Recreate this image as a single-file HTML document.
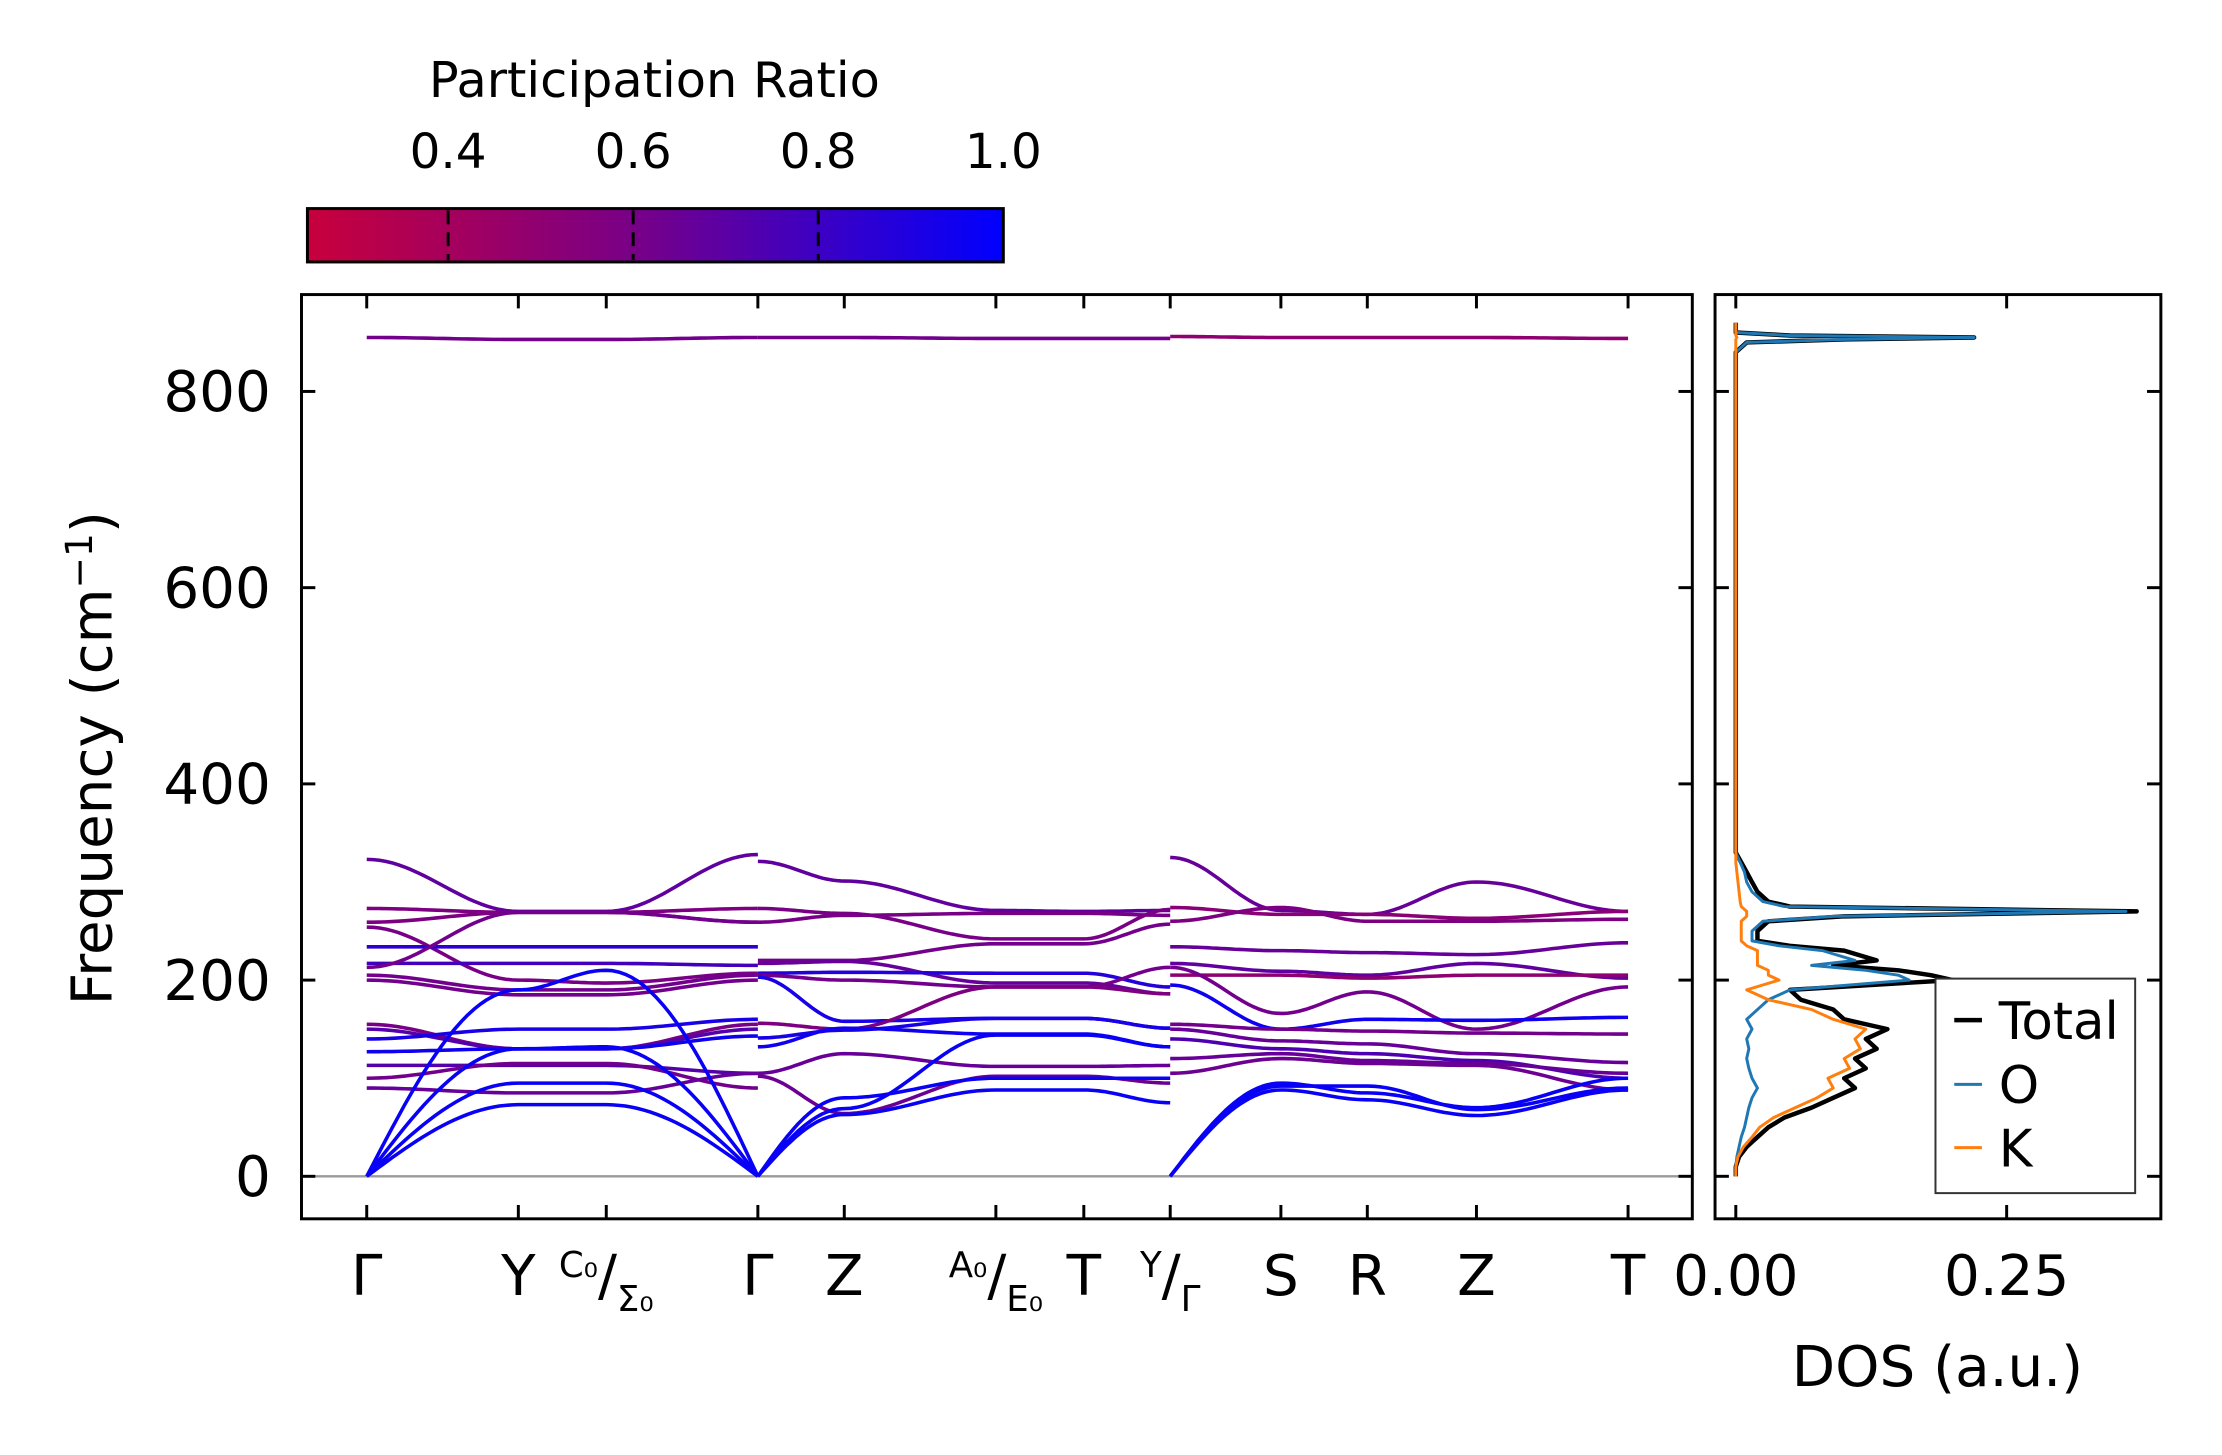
<!DOCTYPE html>
<html><head><meta charset="utf-8"><style>
html,body{margin:0;padding:0;background:#fff}
svg{display:block}
text{font-family:"DejaVu Sans","Liberation Sans",sans-serif;fill:#000}
</style></head><body>
<svg width="2222" height="1455" viewBox="0 0 2222 1455" xmlns="http://www.w3.org/2000/svg">
<defs>
<linearGradient id="cmap" x1="0" x2="1" y1="0" y2="0">
<stop offset="0" stop-color="rgb(200,0,60)"/>
<stop offset="0.47" stop-color="rgb(120,0,135)"/>
<stop offset="1" stop-color="rgb(0,0,255)"/>
</linearGradient>
<clipPath id="mainClip"><rect x="305" y="298" width="1407" height="935"/></clipPath>
<clipPath id="dosClip"><rect x="1735" y="298" width="451" height="935"/></clipPath>
</defs>
<g id="fig" transform="scale(0.9885)">
<text x="662" y="98" font-size="50" text-anchor="middle">Participation Ratio</text>
<rect x="311" y="211" width="704" height="54" fill="url(#cmap)" stroke="#000" stroke-width="3"/>
<g id="cbticks"></g>
<g id="main"></g>
<g id="dos"></g>
</g>
</svg>
<script>
const NS="http://www.w3.org/2000/svg";
function mk(tag,attrs,parent){const e=document.createElementNS(NS,tag);for(const k in attrs)e.setAttribute(k,attrs[k]);parent.appendChild(e);return e;}

// ---- data ----
const cbTicks=[0.4,0.6,0.8,1.0];
const freqTicks=[0,200,400,600,800];
const kLabels=["Γ","Y","C0/Σ0","Γ","Z","A0/E0","T","Y/Γ","S","R","Z","T"];
const kPos=[0,1,1.58,2.58,3.15,4.15,4.73,5.3,6.03,6.6,7.32,8.32];
const piece1Knots=[0,1,1.58,2.58];
const piece2Knots=[2.58,3.15,4.15,4.73,5.3];
const piece3Knots=[5.3,6.03,6.6,7.32,8.32];
const piece1Bands=[[855,853,853,855],[323,270,270,328],[273,269,269,273],[259,269,269,259],[254,200,197,207],[234,234,234,234],[217,217,217,215],[213,269,269,259],[205,190,190,205],[200,185,185,200],[155,130,130,155],[150,130,130,150],[140,150,150,160],[127,130,130,143],[113,113,113,105],[100,115,115,90],[90,85,85,105],[0,73,73,0],[0,95,95,0],[0,130,132,0],[0,190,210,0]];
const piece1PR=[0.62,0.68,0.58,0.58,0.6,0.85,0.78,0.62,0.62,0.62,0.6,0.72,0.92,0.95,0.72,0.62,0.66,0.97,0.97,0.97,0.97];
const piece2Bands=[[855,855,854,854,854],[321,301,271,270,271],[273,268,242,242,272],[259,266,268,268,266],[220,220,237,237,257],[217,219,197,197,186],[207,208,207,207,193],[205,200,193,193,213],[203,158,161,161,151],[156,150,193,193,186],[141,149,161,161,151],[132,151,145,145,132],[105,125,112,112,113],[102,64,102,102,95],[0,69,144,144,132],[0,63,88,88,75],[0,80,100,100,100]];
const piece2PR=[0.62,0.68,0.6,0.6,0.62,0.66,0.88,0.62,0.92,0.58,0.92,0.95,0.66,0.64,0.97,0.97,0.97];
const piece3Bands=[[856,855,855,855,854],[325,271,267,300,270],[274,267,267,263,270],[260,274,260,260,262],[234,230,228,226,238],[217,209,205,217,202],[205,205,202,205,205],[213,166,188,150,193],[195,150,160,159,162],[155,150,148,146,145],[150,138,135,125,116],[140,130,125,118,100],[120,125,118,115,105],[105,120,115,113,88],[0,92,92,68,90],[0,88,78,62,88],[0,95,85,70,100]];
const piece3PR=[0.5,0.66,0.52,0.58,0.66,0.68,0.5,0.62,0.95,0.62,0.66,0.74,0.66,0.64,0.97,0.97,0.97];

const dosFreq=[0,10,20,30,40,50,60,70,80,90,100,110,120,130,140,150,160,170,180,190,200,205,210,215,220,230,235,240,250,260,265,270,275,280,290,300,310,320,330,840,850,853,855,857,860,870];
const dosTotal=[0,0,0.003,0.01,0.02,0.03,0.045,0.07,0.09,0.11,0.10,0.12,0.11,0.13,0.12,0.14,0.10,0.09,0.06,0.05,0.20,0.18,0.15,0.09,0.13,0.10,0.05,0.02,0.02,0.03,0.10,0.37,0.05,0.03,0.02,0.015,0.01,0.005,0,0,0.01,0.1,0.22,0.05,0,0];
const dosO=[0,0,0.001,0.003,0.005,0.008,0.01,0.012,0.015,0.02,0.015,0.012,0.01,0.012,0.01,0.015,0.01,0.02,0.03,0.05,0.16,0.15,0.12,0.07,0.11,0.08,0.04,0.015,0.015,0.025,0.09,0.36,0.045,0.025,0.015,0.01,0.008,0.004,0,0,0.01,0.1,0.22,0.05,0,0];
const dosK=[0,0,0.002,0.007,0.015,0.022,0.035,0.055,0.075,0.09,0.085,0.105,0.10,0.115,0.11,0.12,0.09,0.07,0.03,0.01,0.04,0.03,0.03,0.02,0.02,0.02,0.01,0.005,0.005,0.005,0.01,0.01,0.005,0.004,0.003,0.002,0.001,0,0,0,0,0,0.001,0,0,0];
const dosTicks=[0.00,0.25];

// ---- scales ----
const M={L:305,R:1712,T:298,B:1233};
const D={L:1735,R:2186};
const yF=f=>1190-f*0.9925;
const xK=k=>371+k*(1647-371)/8.32;
const xD=d=>1756+d*1096;
const xCB=v=>311+(v-0.248)*(704/0.752);
function prColor(p){const t=Math.max(0,Math.min(1,(p-0.248)/0.752));let a,b,u;
 if(t<0.47){a=[200,0,60];b=[120,0,135];u=t/0.47;}else{a=[120,0,135];b=[0,0,255];u=(t-0.47)/0.53;}
 return `rgb(${a.map((v,i)=>Math.round(v+(b[i]-v)*u)).join(',')})`;}

const FS=57;
const cbg=document.getElementById('cbticks');
cbTicks.forEach(v=>{const x=xCB(v);
 if(v<1){const l=mk('line',{x1:x,x2:x,y1:213,y2:263,stroke:'#000','stroke-width':3,'stroke-dasharray':'14,8'},cbg);
 
 }
 const t=mk('text',{x:x,y:170,'font-size':49,'text-anchor':'middle'},cbg);t.textContent=v.toFixed(1);
 
 
});

const g=document.getElementById('main');
const zl=mk('line',{x1:M.L,x2:M.R,y1:yF(0),y2:yF(0),stroke:'#999','stroke-width':2.5},g);


const bands=mk('g',{'clip-path':'url(#mainClip)',fill:'none','stroke-width':3.6,'stroke-linejoin':'round'},g);


function interp(a,b,u){
 if(a===0&&b!==0)return b*Math.sin(u*Math.PI/2);
 if(b===0&&a!==0)return a*Math.sin((1-u)*Math.PI/2);
 return a+(b-a)*(1-Math.cos(u*Math.PI))/2;}
function drawPiece(knots,bandsArr,prs){
 bandsArr.forEach((bd,i)=>{let pts=[];
  for(let s=0;s<knots.length-1;s++){for(let j=0;j<=24;j++){if(s>0&&j===0)continue;const u=j/24;
   const k=knots[s]+(knots[s+1]-knots[s])*u;pts.push(xK(k).toFixed(1)+','+yF(interp(bd[s],bd[s+1],u)).toFixed(1));}}
  const p=mk('polyline',{points:pts.join(' '),stroke:prColor(prs[i])},bands);
  
  
 });}
drawPiece(piece1Knots,piece1Bands,piece1PR);
drawPiece(piece2Knots,piece2Bands,piece2PR);
drawPiece(piece3Knots,piece3Bands,piece3PR);
const fr=mk('rect',{x:M.L,y:M.T,width:M.R-M.L,height:M.B-M.T,fill:'none',stroke:'#000','stroke-width':3},g);


freqTicks.forEach(f=>{const y=yF(f);
 mk('line',{x1:M.L,x2:M.L+14,y1:y,y2:y,stroke:'#000','stroke-width':3},g);
 mk('line',{x1:M.R-14,x2:M.R,y1:y,y2:y,stroke:'#000','stroke-width':3},g);
 mk('line',{x1:D.L,x2:D.L+14,y1:y,y2:y,stroke:'#000','stroke-width':3},g);
 mk('line',{x1:D.R-14,x2:D.R,y1:y,y2:y,stroke:'#000','stroke-width':3},g);
 const t=mk('text',{x:274,y:y+20,'font-size':FS,'text-anchor':'end'},g);t.textContent=f;
 
 
});
kPos.forEach((k,i)=>{const x=xK(k);
 mk('line',{x1:x,x2:x,y1:M.B-14,y2:M.B,stroke:'#000','stroke-width':3},g);
 mk('line',{x1:x,x2:x,y1:M.T,y2:M.T+14,stroke:'#000','stroke-width':3},g);
 const lab=kLabels[i];let t;
 if(lab.includes('/')){const [a,b]=lab.split('/');
  t=mk('text',{x:x,y:1310,'font-size':FS,'text-anchor':'middle'},g);
  const s1=mk('tspan',{'font-size':36,dy:-18},t);s1.textContent=a.replace('0','₀');
  const s2=mk('tspan',{'font-size':FS,dy:18},t);s2.textContent='/';
  const s3=mk('tspan',{'font-size':36,dy:16},t);s3.textContent=b.replace('0','₀');
 }else{t=mk('text',{x:x,y:1310,'font-size':FS,'text-anchor':'middle'},g);t.textContent=lab;}
 
 
});
const yl=mk('text',{x:0,y:0,'font-size':FS,'text-anchor':'middle',transform:'translate(113,767) rotate(-90)'},g);
yl.textContent='Frequency (cm';
const sup=mk('tspan',{'font-size':38,dy:-20},yl);sup.textContent='−1';
const cl=mk('tspan',{'font-size':FS,dy:20},yl);cl.textContent=')';



const dg=document.getElementById('dos');
const dc=mk('g',{'clip-path':'url(#dosClip)',fill:'none','stroke-linejoin':'round'},dg);
function dosLine(vals,color,w,name){const pts=dosFreq.map((f,i)=>xD(vals[i]).toFixed(1)+','+yF(f).toFixed(1));
 const p=mk('polyline',{points:pts.join(' '),stroke:color,'stroke-width':w},dc);
 
 }
dosLine(dosTotal,'#000',4.5,'dos-total-line');
dosLine(dosO,'#1f77b4',3,'dos-o-line');
dosLine(dosK,'#ff7f0e',3,'dos-k-line');
const df=mk('rect',{x:D.L,y:M.T,width:D.R-D.L,height:M.B-M.T,fill:'none',stroke:'#000','stroke-width':3},dg);


dosTicks.forEach(d=>{const x=xD(d);
 mk('line',{x1:x,x2:x,y1:M.B-14,y2:M.B,stroke:'#000','stroke-width':3},dg);
 mk('line',{x1:x,x2:x,y1:M.T,y2:M.T+14,stroke:'#000','stroke-width':3},dg);
 const t=mk('text',{x:x,y:1310,'font-size':FS,'text-anchor':'middle'},dg);t.textContent=d.toFixed(2);
 
 
});
const xl=mk('text',{x:1960,y:1402,'font-size':FS,'text-anchor':'middle'},dg);xl.textContent='DOS (a.u.)';


const lg=mk('g',{},dg);


mk('rect',{x:1958,y:990,width:202,height:217,fill:'#fff',stroke:'#333','stroke-width':2},lg);
[['Total','#000',1032],['O','#1f77b4',1097],['K','#ff7f0e',1161]].forEach(([n,c,y])=>{
 mk('line',{x1:1977,x2:2005,y1:y,y2:y,stroke:c,'stroke-width':n==='Total'?4.5:3},lg);
 const t=mk('text',{x:2022,y:y+19,'font-size':52},lg);t.textContent=n;
 
 
});
</script>
</body></html>
